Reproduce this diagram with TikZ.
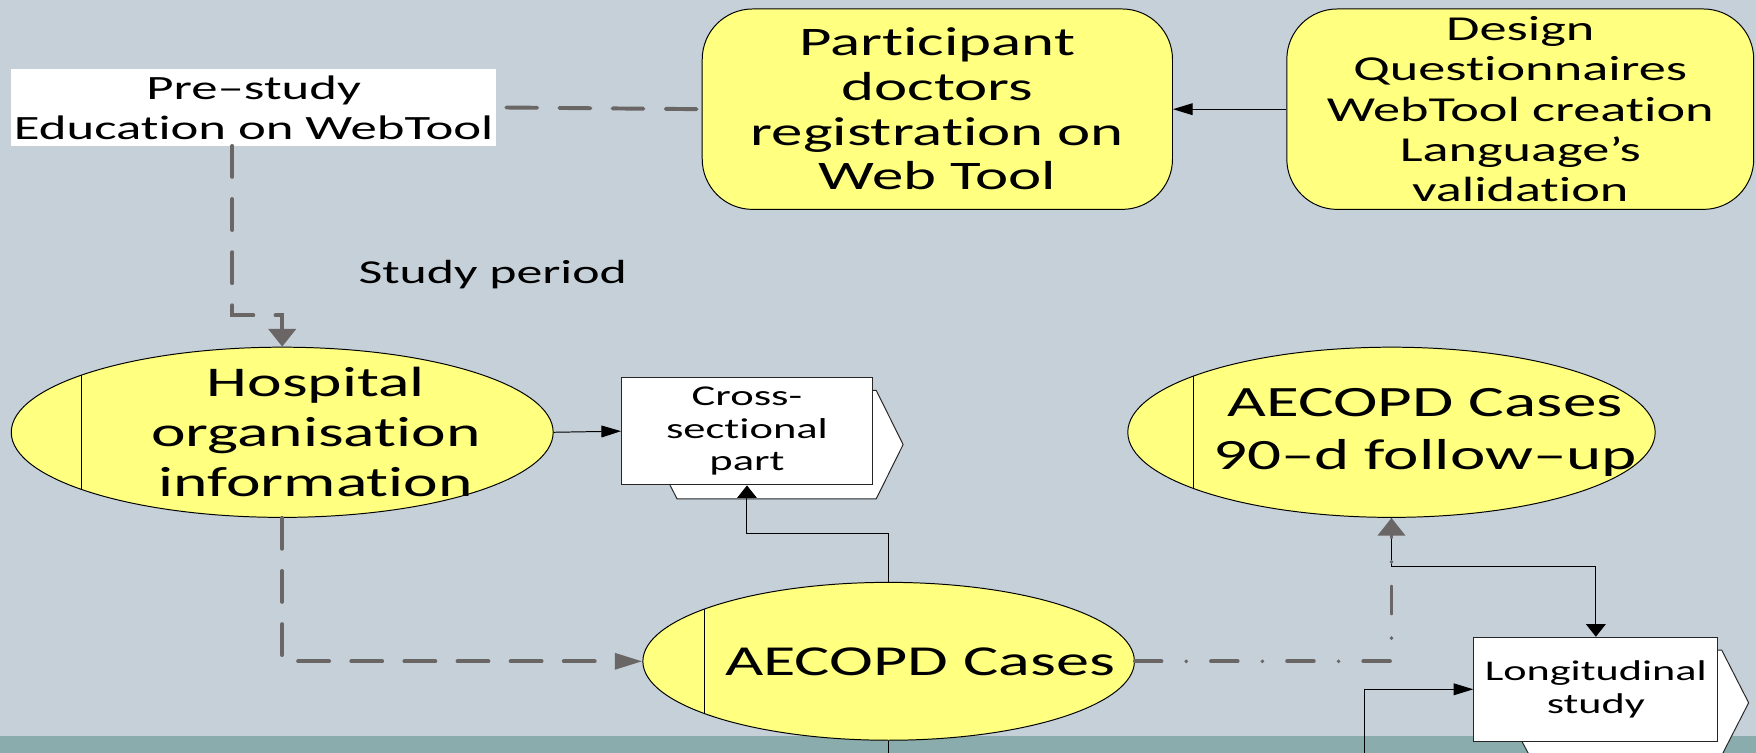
\documentclass[tikz,border=0pt]{standalone}
\usepackage{fontspec}
\setmainfont[FakeStretch=1.55, Ligatures={TeX,NoCommon}]{Carlito}
\usetikzlibrary{shapes.geometric,arrows.meta,calc}

\definecolor{bgblue}{HTML}{C5D0D8}
\definecolor{stripteal}{HTML}{8AACAD}
\definecolor{caseyellow}{HTML}{FFFF80}
\definecolor{flowgrey}{HTML}{6B6666}

\pgfdeclarelayer{bg}
\pgfdeclarelayer{mid}
\pgfsetlayers{bg,mid,main}

\tikzset{
  yellowbox/.style = {draw, fill=caseyellow, line width=0.5pt, rounded corners=0.9cm, align=center, inner sep=0pt},
  caseoval/.style  = {ellipse, draw, fill=caseyellow, line width=0.5pt, inner sep=0pt},
  whitebox/.style  = {draw=black!85, fill=white, line width=0.5pt, align=center, inner sep=0pt},
  tabback/.style   = {draw=black!85, fill=white, line width=0.5pt},
  thinline/.style  = {line width=0.5pt},
  harrow/.style    = {thinline, -{Triangle[length=10pt,width=6pt]}},
  varrow/.style    = {thinline, -{Triangle[length=6.4pt,width=10pt]}},
  dashline/.style  = {flowgrey, line width=2pt, line cap=round, dash pattern=on 15.7pt off 11.3pt},
  dotdash/.style   = {flowgrey, line width=2pt, line cap=round, dash pattern=on 13.5pt off 12.6pt on 0pt off 12.6pt},
}

\begin{document}
\begin{tikzpicture}[x=0.02cm, y=-0.02cm]
  \begin{pgfonlayer}{bg}
    \fill[bgblue] (0,0) rectangle (1568,672);
    \fill[stripteal] (0,657) rectangle (1568,672);
  \end{pgfonlayer}
  \useasboundingbox (0,0) rectangle (1568,672);

  % top row
  \node[fill=white, align=center, minimum width=8.66cm, minimum height=1.36cm, inner sep=0pt, font=\fontsize{17.3}{20.4}\selectfont] (pre) at (226.5,96) {Pre--study\\Education on WebTool};
  \node[yellowbox, minimum width=8.4cm, minimum height=3.58cm, font=\fontsize{20.6}{22.7}\selectfont] (reg) at (837,97.5) {Participant\\doctors\\registration on\\Web Tool};
  \node[yellowbox, minimum width=8.34cm, minimum height=3.58cm, font=\fontsize{17.8}{20.4}\selectfont] (design) at (1357.5,97.5) {Design\\Questionnaires\\WebTool creation\\Language’s\\validation};

  \node[font=\fontsize{17}{20}\selectfont] (period) at (440,245) {Study period};

  % ovals
  \node[caseoval, minimum width=9.68cm, minimum height=3.04cm] (hosp) at (252,386) {};
  \node[caseoval, minimum width=8.78cm, minimum height=2.82cm] (cases) at (793.5,590.5) {};
  \node[caseoval, minimum width=9.42cm, minimum height=3.04cm] (follow) at (1242.5,386) {};
  \foreach \e in {hosp,cases,follow}
    \draw[thinline] (\e.164) -- (\e.196);
  \node[align=center, font=\fontsize{21.5}{25.5}\selectfont] (hosptext) at ($(hosp)+(30,0)$) {Hospital\\organisation\\information};
  \node[font=\fontsize{21.7}{26}\selectfont] (casestext) at ($(cases)+(28,0)$) {AECOPD Cases};
  \node[align=center, font=\fontsize{22}{27.2}\selectfont] (followtext) at ($(follow)+(30,0)$) {AECOPD Cases\\90--d follow--up};

  % outcome boxes
  \node[whitebox, minimum width=4.48cm, minimum height=1.92cm, font=\fontsize{14.6}{16.4}\selectfont] (cross) at (667,385) {Cross-\\sectional\\part};
  \node[whitebox, minimum width=4.36cm, minimum height=1.86cm, font=\fontsize{14.5}{17}\selectfont] (longi) at (1425,615.5) {Longitudinal\\study};
  \begin{pgfonlayer}{mid}
    \foreach \b in {cross,longi}
      \filldraw[tabback] ($(\b.north west)+(50,12)$) -- ($(\b.north east)+(3,12)$) -- ($(\b.east)+(27,12)$) -- ($(\b.south east)+(3,12)$) -- ($(\b.south west)+(50,12)$) -- ($(\b.west)+(25,12)$) -- cycle;
  \end{pgfonlayer}

  % connectors
  \draw[harrow] (design.west) -- (reg.east);
  \draw[dashline] ([xshift=5pt]pre.east) -- (reg.west);
  \draw[dashline, -{Triangle[length=9pt,width=13.7pt]}] ($(pre.south)+(-19,0)$) |- ($(hosp.north)+(0,-28)$) -- (hosp.north);
  \draw[harrow] (hosp.east) -- (cross.west);
  \draw[dashline, -{Triangle[length=14pt,width=8pt]}] (hosp.south) |- (cases.west);
  \draw[varrow] (cases.north) |- ($(cross.south)+(0,43)$) -- (cross.south);
  \draw[varrow] (follow.south) -- ++(0,43) -| (longi.north);
  \draw[dotdash, -{Triangle[length=9pt,width=13.7pt]}] (cases.east) -| (follow.south);
  \coordinate (casesout) at ($(cases.south)+(0,30)$);
  \draw[thinline] (cases.south) -- (casesout);
  \coordinate (longiin) at (1218,690);
  \draw[harrow] (longiin) |- (longi.west);
\end{tikzpicture}
\end{document}
